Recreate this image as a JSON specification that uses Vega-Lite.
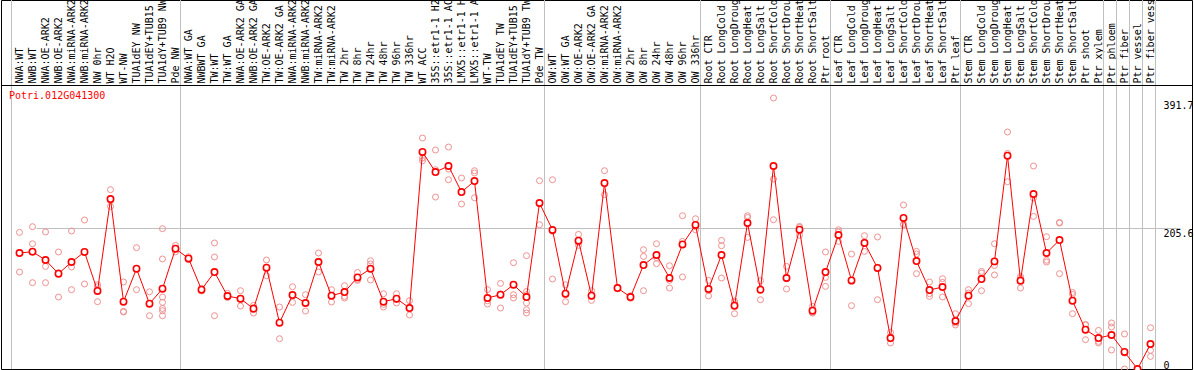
{
  "$schema": "https://vega.github.io/schema/vega-lite/v6.json",
  "autosize": {"type": "none"},
  "padding": {"left": 1, "right": 2, "top": 0, "bottom": 1},
  "width": 1191,
  "height": 369,
  "background": "#ffffff",
  "config": {"view": {"stroke": "#000000", "strokeWidth": 1}},
  "title": {"text": "Potri.012G041300", "anchor": "start", "frame": "group", "orient": "top", "offset": -102, "baseline": "top", "dx": 8, "font": "DejaVu Sans Mono", "fontSize": 10, "fontWeight": "normal", "color": "#ff0000"},
  "datasets": {
    "m": [
      {"s":"NWA:WT","v":168.9},{"s":"NWB:WT","v":170.8},{"s":"NWA:OE-ARK2","v":158.7},{"s":"NWB:OE-ARK2","v":138.8},{"s":"NWA:miRNA-ARK2","v":155.8},{"s":"NWB:miRNA-ARK2","v":170.4},{"s":"NW 0hr","v":113.6},{"s":"WT H2O","v":247.5},{"s":"WT-NW","v":98.0},{"s":"TUA1dEY NW","v":146.0},{"s":"TUA1dEY+TUB15 NW","v":95.1},{"s":"TUA1dY+TUB9 NW","v":116.9},{"s":"Pde NW","v":175.2},
      {"s":"NWA:WT GA","v":161.0},{"s":"NWBWT GA","v":115.5},{"s":"TW:WT","v":141.2},{"s":"TW:WT GA","v":106.3},{"s":"NWA:OE-ARK2 GA","v":102.4},{"s":"NWB:OE-ARK2 GA","v":87.8},{"s":"TW:OE-ARK2","v":147.5},{"s":"TW:OE-ARK2 GA","v":67.4},{"s":"NWA:miRNA-ARK2 GA","v":107.7},{"s":"NWB:miRNA-ARK2 GA","v":96.1},{"s":"TW:miRNA-ARK2","v":155.8},{"s":"TW:miRNA-ARK2 GA","v":106.7},{"s":"TW 2hr","v":112.1},{"s":"TW 8hr","v":133.4},{"s":"TW 24hr","v":146.0},{"s":"TW 48hr","v":98.0},{"s":"TW 96hr","v":102.4},{"s":"TW 336hr","v":88.8},{"s":"WT ACC","v":316.0},{"s":"35S::etr1-1 H2O","v":286.8},{"s":"35S::etr1-1 ACC","v":295.6},{"s":"LMX5::etr1-1 H2O","v":257.7},{"s":"LMX5::etr1-1 ACC","v":273.7},{"s":"WT-TW","v":103.4},{"s":"TUA1dEY TW","v":108.2},{"s":"TUA1dEY+TUB15 TW","v":122.7},{"s":"TUA1dY+TUB9 TW","v":104.8},{"s":"Pde TW","v":241.7},
      {"s":"OW:WT","v":202.4},{"s":"OW:WT GA","v":109.6},{"s":"OW:OE-ARK2","v":186.8},{"s":"OW:OE-ARK2 GA","v":106.7},{"s":"OW:miRNA-ARK2","v":270.8},{"s":"OW:miRNA-ARK2 GA","v":117.9},{"s":"OW 2hr","v":104.8},{"s":"OW 8hr","v":151.4},{"s":"OW 24hr","v":166.0},{"s":"OW 48hr","v":132.5},{"s":"OW 96hr","v":181.4},{"s":"OW 336hr","v":209.7},
      {"s":"Root CTR","v":116.5},{"s":"Root LongCold","v":166.0},{"s":"Root LongDrought","v":92.2},{"s":"Root LongHeat","v":212.6},{"s":"Root LongSalt","v":115.5},{"s":"Root ShortCold","v":295.6},{"s":"Root ShortDrought","v":132.5},{"s":"Root ShortHeat","v":202.8},{"s":"Root ShortSalt","v":84.9},{"s":"Ptr root","v":141.2},
      {"s":"Leaf CTR","v":195.1},{"s":"Leaf LongCold","v":129.0},{"s":"Leaf LongDrought","v":183.5},{"s":"Leaf LongHeat","v":147.1},{"s":"Leaf LongSalt","v":45.1},{"s":"Leaf ShortCold","v":219.9},{"s":"Leaf ShortDrought","v":157.2},{"s":"Leaf ShortHeat","v":115.0},{"s":"Leaf ShortSalt","v":119.4},{"s":"Ptr leaf","v":69.9},
      {"s":"Stem CTR","v":106.7},{"s":"Stem LongCold","v":131.0},{"s":"Stem LongDrought","v":156.7},{"s":"Stem LongHeat","v":310.6},{"s":"Stem LongSalt","v":128.6},{"s":"Stem ShortCold","v":254.8},{"s":"Stem ShortDrought","v":168.9},{"s":"Stem ShortHeat","v":187.8},{"s":"Stem ShortSalt","v":99.4},{"s":"Ptr shoot","v":57.2},{"s":"Ptr xylem","v":45.1},
      {"s":"Ptr phloem","v":49.5},{"s":"Ptr fiber","v":24.8},{"s":"Ptr vessel","v":0.0},{"s":"Ptr fiber vessel","v":36.4}
    ],
    "r": [
      {"s":"NWA:WT","v":198.9},{"s":"NWA:WT","v":141.2},{"s":"NWA:WT","v":169.3},
      {"s":"NWB:WT","v":207.2},{"s":"NWB:WT","v":182.4},{"s":"NWB:WT","v":125.7},
      {"s":"NWA:OE-ARK2","v":199.5},{"s":"NWA:OE-ARK2","v":149.4},{"s":"NWA:OE-ARK2","v":125.7},
      {"s":"NWB:OE-ARK2","v":170.4},{"s":"NWB:OE-ARK2","v":104.8},{"s":"NWB:OE-ARK2","v":140.2},
      {"s":"NWA:miRNA-ARK2","v":200.9},{"s":"NWA:miRNA-ARK2","v":148.5},{"s":"NWA:miRNA-ARK2","v":115.5},
      {"s":"NWB:miRNA-ARK2","v":216.9},{"s":"NWB:miRNA-ARK2","v":123.8},{"s":"NWB:miRNA-ARK2","v":170.8},
      {"s":"NW 0hr","v":122.7},{"s":"NW 0hr","v":119.8},{"s":"NW 0hr","v":98.0},
      {"s":"WT H2O","v":261.1},{"s":"WT H2O","v":236.7},{"s":"WT H2O","v":245.0},
      {"s":"WT-NW","v":126.7},{"s":"WT-NW","v":83.9},{"s":"WT-NW","v":83.0},
      {"s":"TUA1dEY NW","v":176.6},{"s":"TUA1dEY NW","v":115.5},{"s":"TUA1dEY NW","v":146.0},
      {"s":"TUA1dEY+TUB15 NW","v":112.5},{"s":"TUA1dEY+TUB15 NW","v":77.6},{"s":"TUA1dEY+TUB15 NW","v":95.1},
      {"s":"TUA1dY+TUB9 NW","v":204.3},{"s":"TUA1dY+TUB9 NW","v":160.2},{"s":"TUA1dY+TUB9 NW","v":104.8},{"s":"TUA1dY+TUB9 NW","v":97.0},{"s":"TUA1dY+TUB9 NW","v":88.2},{"s":"TUA1dY+TUB9 NW","v":84.9},{"s":"TUA1dY+TUB9 NW","v":77.6},
      {"s":"Pde NW","v":180.0},{"s":"Pde NW","v":170.4},{"s":"Pde NW","v":175.2},
      {"s":"NWA:WT GA","v":163.5},{"s":"NWA:WT GA","v":159.1},
      {"s":"NWBWT GA","v":117.4},{"s":"NWBWT GA","v":113.6},
      {"s":"TW:WT","v":183.5},{"s":"TW:WT","v":163.1},{"s":"TW:WT","v":77.6},
      {"s":"TW:WT GA","v":110.1},{"s":"TW:WT GA","v":104.2},{"s":"TW:WT GA","v":104.5},
      {"s":"NWA:OE-ARK2 GA","v":114.0},{"s":"NWA:OE-ARK2 GA","v":91.7},{"s":"NWA:OE-ARK2 GA","v":101.3},
      {"s":"NWB:OE-ARK2 GA","v":92.6},{"s":"NWB:OE-ARK2 GA","v":81.5},{"s":"NWB:OE-ARK2 GA","v":89.3},
      {"s":"TW:OE-ARK2","v":158.7},{"s":"TW:OE-ARK2","v":135.8},{"s":"TW:OE-ARK2","v":147.5},
      {"s":"TW:OE-ARK2 GA","v":90.3},{"s":"TW:OE-ARK2 GA","v":44.1},{"s":"TW:OE-ARK2 GA","v":67.4},
      {"s":"NWA:miRNA-ARK2 GA","v":119.8},{"s":"NWA:miRNA-ARK2 GA","v":97.0},{"s":"NWA:miRNA-ARK2 GA","v":106.7},
      {"s":"NWB:miRNA-ARK2 GA","v":108.2},{"s":"NWB:miRNA-ARK2 GA","v":84.4},{"s":"NWB:miRNA-ARK2 GA","v":95.8},
      {"s":"TW:miRNA-ARK2","v":168.9},{"s":"TW:miRNA-ARK2","v":141.2},{"s":"TW:miRNA-ARK2","v":157.0},
      {"s":"TW:miRNA-ARK2 GA","v":115.5},{"s":"TW:miRNA-ARK2 GA","v":97.6},{"s":"TW:miRNA-ARK2 GA","v":107.2},
      {"s":"TW 2hr","v":121.3},{"s":"TW 2hr","v":105.7},{"s":"TW 2hr","v":103.4},
      {"s":"TW 8hr","v":140.6},{"s":"TW 8hr","v":129.0},{"s":"TW 8hr","v":130.5},
      {"s":"TW 24hr","v":157.7},{"s":"TW 24hr","v":152.9},{"s":"TW 24hr","v":129.6},
      {"s":"TW 48hr","v":109.6},{"s":"TW 48hr","v":90.3},{"s":"TW 48hr","v":94.1},
      {"s":"TW 96hr","v":109.6},{"s":"TW 96hr","v":96.1},{"s":"TW 96hr","v":101.3},
      {"s":"TW 336hr","v":99.4},{"s":"TW 336hr","v":78.6},{"s":"TW 336hr","v":88.4},
      {"s":"WT ACC","v":336.3},{"s":"WT ACC","v":307.2},{"s":"WT ACC","v":303.3},
      {"s":"35S::etr1-1 H2O","v":318.9},{"s":"35S::etr1-1 H2O","v":290.2},{"s":"35S::etr1-1 H2O","v":250.4},
      {"s":"35S::etr1-1 ACC","v":323.2},{"s":"35S::etr1-1 ACC","v":291.2},{"s":"35S::etr1-1 ACC","v":275.6},
      {"s":"LMX5::etr1-1 H2O","v":278.1},{"s":"LMX5::etr1-1 H2O","v":257.7},{"s":"LMX5::etr1-1 H2O","v":240.2},
      {"s":"LMX5::etr1-1 ACC","v":288.7},{"s":"LMX5::etr1-1 ACC","v":285.4},{"s":"LMX5::etr1-1 ACC","v":249.4},
      {"s":"WT-TW","v":115.5},{"s":"WT-TW","v":99.4},{"s":"WT-TW","v":94.6},
      {"s":"TUA1dEY TW","v":124.6},{"s":"TUA1dEY TW","v":109.2},{"s":"TUA1dEY TW","v":88.8},
      {"s":"TUA1dEY+TUB15 TW","v":154.8},{"s":"TUA1dEY+TUB15 TW","v":108.2},{"s":"TUA1dEY+TUB15 TW","v":103.4},
      {"s":"TUA1dY+TUB9 TW","v":165.0},{"s":"TUA1dY+TUB9 TW","v":113.0},{"s":"TUA1dY+TUB9 TW","v":108.2},{"s":"TUA1dY+TUB9 TW","v":96.1},{"s":"TUA1dY+TUB9 TW","v":86.3},{"s":"TUA1dY+TUB9 TW","v":81.5},
      {"s":"Pde TW","v":274.2},{"s":"Pde TW","v":210.1},{"s":"Pde TW","v":240.7},
      {"s":"OW:WT","v":275.6},{"s":"OW:WT","v":131.0},{"s":"OW:WT","v":200.5},
      {"s":"OW:WT GA","v":122.7},{"s":"OW:WT GA","v":98.0},{"s":"OW:WT GA","v":108.2},
      {"s":"OW:OE-ARK2","v":196.0},{"s":"OW:OE-ARK2","v":180.0},{"s":"OW:OE-ARK2","v":184.5},
      {"s":"OW:OE-ARK2 GA","v":114.0},{"s":"OW:OE-ARK2 GA","v":99.9},{"s":"OW:OE-ARK2 GA","v":106.3},
      {"s":"OW:miRNA-ARK2","v":288.7},{"s":"OW:miRNA-ARK2","v":253.8},{"s":"OW:miRNA-ARK2","v":269.8},
      {"s":"OW:miRNA-ARK2 GA","v":119.1},{"s":"OW:miRNA-ARK2 GA","v":116.9},
      {"s":"OW 2hr","v":106.7},{"s":"OW 2hr","v":102.9},
      {"s":"OW 8hr","v":173.7},{"s":"OW 8hr","v":163.9},{"s":"OW 8hr","v":114.0},
      {"s":"OW 24hr","v":182.4},{"s":"OW 24hr","v":153.3},{"s":"OW 24hr","v":162.1},
      {"s":"OW 48hr","v":150.4},{"s":"OW 48hr","v":117.9},{"s":"OW 48hr","v":129.1},
      {"s":"OW 96hr","v":223.2},{"s":"OW 96hr","v":185.8},{"s":"OW 96hr","v":134.0},
      {"s":"OW 336hr","v":218.8},{"s":"OW 336hr","v":202.8},{"s":"OW 336hr","v":207.2},
      {"s":"Root CTR","v":129.0},{"s":"Root CTR","v":106.3},{"s":"Root CTR","v":114.0},
      {"s":"Root LongCold","v":187.2},{"s":"Root LongCold","v":179.5},{"s":"Root LongCold","v":132.5},
      {"s":"Root LongDrought","v":99.0},{"s":"Root LongDrought","v":80.5},{"s":"Root LongDrought","v":97.0},
      {"s":"Root LongHeat","v":223.2},{"s":"Root LongHeat","v":220.7},{"s":"Root LongHeat","v":191.6},
      {"s":"Root LongSalt","v":128.6},{"s":"Root LongSalt","v":100.9},{"s":"Root LongSalt","v":116.9},
      {"s":"Root ShortCold","v":394.6},{"s":"Root ShortCold","v":276.6},{"s":"Root ShortCold","v":217.4},
      {"s":"Root ShortDrought","v":149.4},{"s":"Root ShortDrought","v":116.5},{"s":"Root ShortDrought","v":131.5},
      {"s":"Root ShortHeat","v":207.6},{"s":"Root ShortHeat","v":206.2},{"s":"Root ShortHeat","v":194.7},
      {"s":"Root ShortSalt","v":91.1},{"s":"Root ShortSalt","v":81.5},{"s":"Root ShortSalt","v":82.0},
      {"s":"Ptr root","v":170.4},{"s":"Ptr root","v":133.4},{"s":"Ptr root","v":120.3},
      {"s":"Leaf CTR","v":202.8},{"s":"Leaf CTR","v":199.5},{"s":"Leaf CTR","v":185.8},
      {"s":"Leaf LongCold","v":167.4},{"s":"Leaf LongCold","v":92.2},{"s":"Leaf LongCold","v":127.4},
      {"s":"Leaf LongDrought","v":194.1},{"s":"Leaf LongDrought","v":171.2},{"s":"Leaf LongDrought","v":185.1},
      {"s":"Leaf LongHeat","v":192.2},{"s":"Leaf LongHeat","v":100.9},{"s":"Leaf LongHeat","v":148.1},
      {"s":"Leaf LongSalt","v":53.3},{"s":"Leaf LongSalt","v":37.9},{"s":"Leaf LongSalt","v":44.1},
      {"s":"Leaf ShortCold","v":238.8},{"s":"Leaf ShortCold","v":210.1},{"s":"Leaf ShortCold","v":210.7},
      {"s":"Leaf ShortDrought","v":171.2},{"s":"Leaf ShortDrought","v":167.4},{"s":"Leaf ShortDrought","v":138.8},
      {"s":"Leaf ShortHeat","v":126.7},{"s":"Leaf ShortHeat","v":109.6},{"s":"Leaf ShortHeat","v":105.7},
      {"s":"Leaf ShortSalt","v":131.5},{"s":"Leaf ShortSalt","v":126.1},{"s":"Leaf ShortSalt","v":104.8},
      {"s":"Ptr leaf","v":80.5},{"s":"Ptr leaf","v":67.0},{"s":"Ptr leaf","v":64.1},
      {"s":"Stem CTR","v":115.5},{"s":"Stem CTR","v":110.7},{"s":"Stem CTR","v":95.1},
      {"s":"Stem LongCold","v":142.1},{"s":"Stem LongCold","v":139.8},{"s":"Stem LongCold","v":114.0},
      {"s":"Stem LongDrought","v":182.4},{"s":"Stem LongDrought","v":136.9},{"s":"Stem LongDrought","v":150.7},
      {"s":"Stem LongHeat","v":345.1},{"s":"Stem LongHeat","v":272.7},{"s":"Stem LongHeat","v":313.9},
      {"s":"Stem LongSalt","v":134.8},{"s":"Stem LongSalt","v":131.9},{"s":"Stem LongSalt","v":117.9},
      {"s":"Stem ShortCold","v":295.6},{"s":"Stem ShortCold","v":249.0},{"s":"Stem ShortCold","v":222.2},
      {"s":"Stem ShortDrought","v":192.6},{"s":"Stem ShortDrought","v":155.8},{"s":"Stem ShortDrought","v":158.3},
      {"s":"Stem ShortHeat","v":213.4},{"s":"Stem ShortHeat","v":212.6},{"s":"Stem ShortHeat","v":138.8},
      {"s":"Stem ShortSalt","v":111.5},{"s":"Stem ShortSalt","v":108.6},{"s":"Stem ShortSalt","v":80.5},
      {"s":"Ptr shoot","v":64.9},{"s":"Ptr shoot","v":42.7},{"s":"Ptr shoot","v":64.1},
      {"s":"Ptr xylem","v":56.2},{"s":"Ptr xylem","v":40.2},{"s":"Ptr xylem","v":37.9},
      {"s":"Ptr phloem","v":67.0},{"s":"Ptr phloem","v":61.2},{"s":"Ptr phloem","v":27.7},
      {"s":"Ptr fiber","v":51.0},{"s":"Ptr fiber","v":0.0},{"s":"Ptr fiber","v":23.3},
      {"s":"Ptr vessel","v":0.0},{"s":"Ptr vessel","v":0.0},{"s":"Ptr vessel","v":0.0},
      {"s":"Ptr fiber vessel","v":60.1},{"s":"Ptr fiber vessel","v":27.1},{"s":"Ptr fiber vessel","v":18.3}
    ],
    "b": [
      {"s":"NWA:WT"},{"s":"NWA:WT GA"},{"s":"OW:WT"},{"s":"Root CTR"},{"s":"Leaf CTR"},{"s":"Stem CTR"},{"s":"Ptr phloem"},{"s":"Ptr fiber"},{"s":"Ptr vessel"},{"s":"Ptr fiber vessel"}
    ],
    "e": [{"s":"Ptr fiber vessel"}],
    "d": [{"v": 412.8}]
  },
  "layer": [
    {
      "data": {"name": "b"},
      "mark": {"type": "rule", "color": "#c0c0c0", "strokeWidth": 1, "xOffset": -1.5},
      "encoding": {"x": {"field": "s", "type": "nominal", "bandPosition": 0}}
    },
    {
      "data": {"name": "e"},
      "mark": {"type": "rule", "color": "#c0c0c0", "strokeWidth": 1, "xOffset": -1.5},
      "encoding": {"x": {"field": "s", "type": "nominal", "bandPosition": 1}}
    },
    {
      "data": {"name": "r"},
      "mark": {"type": "point", "shape": "circle", "size": 36, "filled": false, "stroke": "#ee9090", "strokeWidth": 1, "opacity": 1},
      "encoding": {"x": {"field": "s", "type": "nominal"}, "y": {"field": "v", "type": "quantitative"}}
    },
    {
      "data": {"name": "m"},
      "mark": {"type": "line", "color": "#ff0000", "strokeWidth": 1},
      "encoding": {"x": {"field": "s", "type": "nominal"}, "y": {"field": "v", "type": "quantitative"}}
    },
    {
      "data": {"name": "m"},
      "mark": {"type": "point", "shape": "circle", "size": 40, "filled": true, "fill": "#ffffff", "stroke": "#ff0000", "strokeWidth": 1.6, "opacity": 1},
      "encoding": {
        "x": {
          "field": "s", "type": "nominal",
          "scale": {
            "type": "band", "range": [12, 1156], "paddingInner": 0, "paddingOuter": 0,
            "domain": ["NWA:WT","NWB:WT","NWA:OE-ARK2","NWB:OE-ARK2","NWA:miRNA-ARK2","NWB:miRNA-ARK2","NW 0hr","WT H2O","WT-NW","TUA1dEY NW","TUA1dEY+TUB15 NW","TUA1dY+TUB9 NW","Pde NW","NWA:WT GA","NWBWT GA","TW:WT","TW:WT GA","NWA:OE-ARK2 GA","NWB:OE-ARK2 GA","TW:OE-ARK2","TW:OE-ARK2 GA","NWA:miRNA-ARK2 GA","NWB:miRNA-ARK2 GA","TW:miRNA-ARK2","TW:miRNA-ARK2 GA","TW 2hr","TW 8hr","TW 24hr","TW 48hr","TW 96hr","TW 336hr","WT ACC","35S::etr1-1 H2O","35S::etr1-1 ACC","LMX5::etr1-1 H2O","LMX5::etr1-1 ACC","WT-TW","TUA1dEY TW","TUA1dEY+TUB15 TW","TUA1dY+TUB9 TW","Pde TW","OW:WT","OW:WT GA","OW:OE-ARK2","OW:OE-ARK2 GA","OW:miRNA-ARK2","OW:miRNA-ARK2 GA","OW 2hr","OW 8hr","OW 24hr","OW 48hr","OW 96hr","OW 336hr","Root CTR","Root LongCold","Root LongDrought","Root LongHeat","Root LongSalt","Root ShortCold","Root ShortDrought","Root ShortHeat","Root ShortSalt","Ptr root","Leaf CTR","Leaf LongCold","Leaf LongDrought","Leaf LongHeat","Leaf LongSalt","Leaf ShortCold","Leaf ShortDrought","Leaf ShortHeat","Leaf ShortSalt","Ptr leaf","Stem CTR","Stem LongCold","Stem LongDrought","Stem LongHeat","Stem LongSalt","Stem ShortCold","Stem ShortDrought","Stem ShortHeat","Stem ShortSalt","Ptr shoot","Ptr xylem","Ptr phloem","Ptr fiber","Ptr vessel","Ptr fiber vessel"]
          },
          "axis": {"orient": "top", "offset": -85, "labelAngle": 270, "labelAlign": "left", "labelBaseline": "middle", "labelPadding": 2, "labelFont": "DejaVu Sans Mono", "labelFontSize": 10, "labelColor": "#000000", "labelExpr": "substring(datum.label, 0, 14)", "labelLimit": 300, "labelOverlap": false, "labelBound": false, "domain": false, "ticks": false, "grid": false, "title": null, "zindex": 0}
        },
        "y": {
          "field": "v", "type": "quantitative",
          "scale": {"domain": [0, 537.3], "nice": false, "zero": false},
          "axis": {"orient": "right", "values": [0, 205.6, 391.7], "offset": -31, "domain": false, "ticks": false, "labelPadding": 2, "labelFont": "DejaVu Sans Mono", "labelFontSize": 10, "labelColor": "#000000", "title": null, "labelExpr": "'' + datum.value", "grid": true, "gridColor": "#c0c0c0", "gridOpacity": {"condition": {"test": "datum.value == 205.6", "value": 1}, "value": 0}, "labelBaseline": {"condition": {"test": "datum.value == 0", "value": "bottom"}, "value": "top"}, "labelOffset": 1, "zindex": 0}
        }
      }
    },
    {
      "data": {"name": "d"},
      "mark": {"type": "rule", "color": "#000000", "strokeWidth": 1, "opacity": 1},
      "encoding": {"y": {"field": "v", "type": "quantitative"}}
    }
  ]
}
